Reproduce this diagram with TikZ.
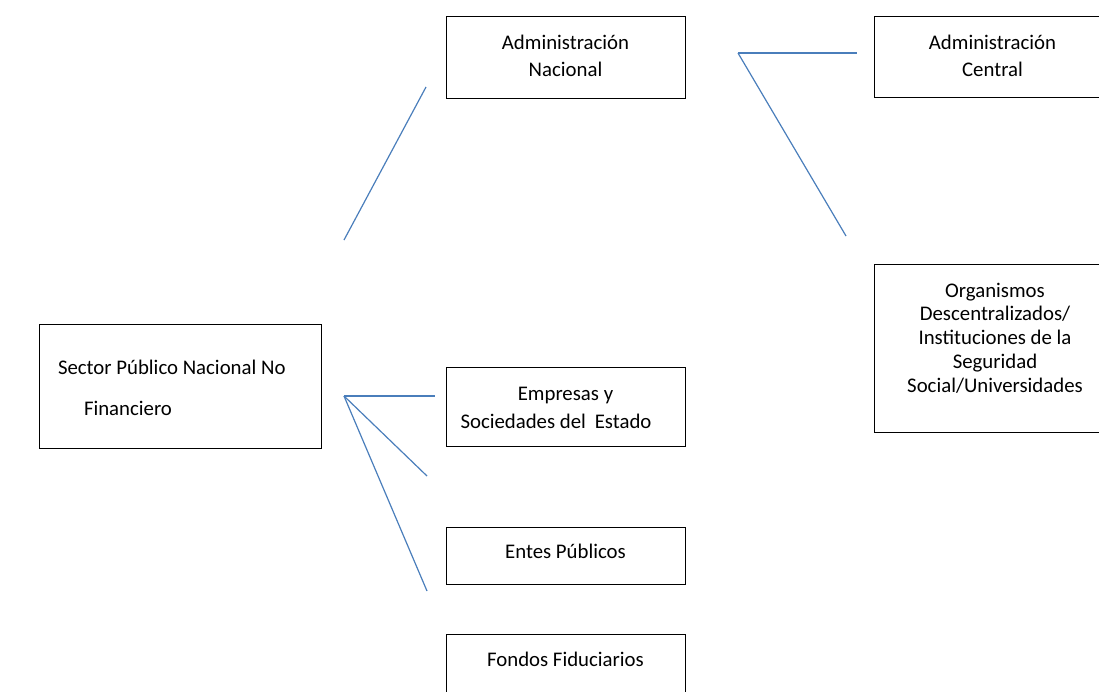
\documentclass[tikz,border=0pt]{standalone}
\usepackage{fontspec}
\setmainfont{Carlito}
\begin{document}
\begin{tikzpicture}[x=1pt,y=-1pt,
  box/.style={draw=black,line width=0.9pt,rectangle,inner sep=0pt,fill=none},
  lbl/.style={align=center,inner sep=0pt,font=\fontsize{20.8}{27}\selectfont},
  link/.style={draw={rgb,255:red,74;green,126;blue,187},line width=1.2pt}]
\useasboundingbox (0,0) rectangle (1099,691);
\clip (0,0) rectangle (1099,691);
% boxes
\node[box,minimum width=239pt,minimum height=82pt] (an) at (565.5,57) {};
\node[lbl] (anT) at (565.5,55.5) {Administración\\Nacional};
\node[box,minimum width=240pt,minimum height=81pt] (ac) at (994,56.5) {};
\node[lbl] (acT) at (992.5,56) {Administración\\Central};
\node[box,minimum width=240pt,minimum height=168pt] (od) at (994,348) {};
\node[lbl,font=\fontsize{20.8}{23.8}\selectfont] (odT) at (995,338) {Organismos\\Descentralizados/\\Instituciones de la\\Seguridad\\Social/Universidades};
\node[box,minimum width=282pt,minimum height=124pt] (sp) at (180,386) {};
\node[lbl,align=flush left,text width=282pt,font=\fontsize{20.8}{41}\selectfont] (spT) at (180,388) {\hspace*{19pt}Sector Público Nacional No\\\hspace*{45pt}Financiero};
\node[box,minimum width=239pt,minimum height=79pt] (es) at (565.5,406.5) {};
\node[lbl,font=\fontsize{20.8}{28}\selectfont] (esT) at (565.5,408) {Empresas y\\\hspace*{0pt}Sociedades del\hspace{0.2em} Estado\hspace*{19pt}};
\node[box,minimum width=239pt,minimum height=57pt] (ep) at (565.5,555.5) {};
\node[lbl] (epT) at (565.5,551) {Entes Públicos};
\node[box,minimum width=239pt,minimum height=80pt] (ff) at (565.5,674) {};
\node[lbl] (ffT) at (565.5,659) {Fondos Fiduciarios};
% connector end points
\coordinate (a1) at (344,240);
\coordinate (a2) at (426,87);
\coordinate (b0) at (738,53);
\coordinate (b1) at (857,53);
\coordinate (b2) at (846,236);
\coordinate (c0) at (344,396);
\coordinate (c1) at (435,396);
\coordinate (c2) at (427,476);
\coordinate (c3) at (427,591);
\draw[link] (a1) -- (a2);
\draw[link] (b0) -- (b1);
\draw[link] (b0) -- (b2);
\draw[link] (c0) -- (c1);
\draw[link] (c0) -- (c2);
\draw[link] (c0) -- (c3);
\end{tikzpicture}
\end{document}
